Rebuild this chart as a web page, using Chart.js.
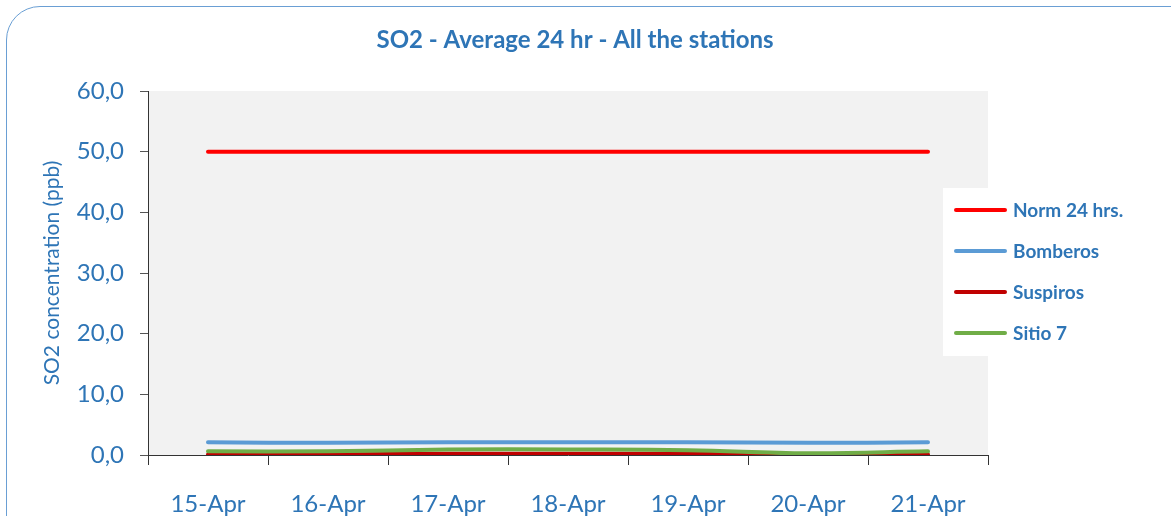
<!DOCTYPE html>
<html>
<head>
<meta charset="utf-8">
<script src="https://cdn.jsdelivr.net/npm/chart.js@4/dist/chart.umd.min.js"></script>
<style>
  html, body { margin: 0; padding: 0; background: #fff; overflow: hidden; }
  #wrap { position: relative; width: 1171px; height: 516px; }
  #frame {
    position: absolute; left: 6px; top: 6px; width: 1220px; height: 580px;
    border: 1.5px solid #6a9fd4; border-radius: 34px; box-sizing: border-box;
  }
  #chart { position: absolute; left: 0; top: 0; }
</style>
</head>
<body>
<div id="wrap">
  <div id="frame"></div>
  <canvas id="chart" width="1171" height="516"></canvas>
</div>
<script>
const days = ['15-Apr', '16-Apr', '17-Apr', '18-Apr', '19-Apr', '20-Apr', '21-Apr'];
const norm24 = [50, 50, 50, 50, 50, 50, 50];
const bomberos = [2.1, 2.0, 2.1, 2.1, 2.1, 2.0, 2.1];
const suspiros = [0.1, 0.1, 0.2, 0.2, 0.2, 0.0, 0.1];
const sitio7 = [0.6, 0.6, 0.9, 0.9, 0.8, 0.3, 0.6];
const chartTitle = 'SO2 - Average 24 hr - All the stations';

const blue = '#2e75b6';
const fontFamily = 'Lato, "Open Sans", sans-serif';

const plotBg = {
    id: 'plotBg',
    beforeDraw(chart) {
        const a = chart.chartArea;
        const ctx = chart.ctx;
        ctx.save();
        ctx.fillStyle = '#f2f2f2';
        ctx.fillRect(a.left, a.top, a.right - a.left, a.bottom - a.top);
        // title centred on the whole frame, not just the plot
        ctx.fillStyle = blue;
        ctx.font = 'bold 24px ' + fontFamily;
        ctx.textAlign = 'center';
        ctx.textBaseline = 'middle';
        ctx.fillText(chartTitle, 575, 40);
        ctx.restore();
    }
};

// legend box drawn over the plot area, like the original
const boxLegend = {
    id: 'boxLegend',
    afterDraw(chart) {
        const ctx = chart.ctx;
        const x = 943, y = 188, w = 230, h = 168;
        ctx.save();
        ctx.fillStyle = '#fff';
        ctx.fillRect(x, y, w, h);
        ctx.font = 'bold 19px ' + fontFamily;
        ctx.textBaseline = 'middle';
        chart.data.datasets.forEach((ds, i) => {
            const cy = 210 + i * 41;
            ctx.strokeStyle = ds.borderColor;
            ctx.lineWidth = 4;
            ctx.lineCap = 'round';
            ctx.beginPath();
            ctx.moveTo(956, cy);
            ctx.lineTo(1005, cy);
            ctx.stroke();
            ctx.fillStyle = blue;
            ctx.fillText(ds.label, 1013, cy + 1);
        });
        ctx.restore();
    }
};

const ctx = document.getElementById('chart').getContext('2d');
new Chart(ctx, {
    type: 'line',
    data: {
        labels: days,
        datasets: [
            { label: 'Norm 24 hrs.', data: norm24, borderColor: '#ff0000', order: 4 },
            { label: 'Bomberos', data: bomberos, borderColor: '#5b9bd5', order: 3 },
            { label: 'Suspiros', data: suspiros, borderColor: '#c00000', order: 2 },
            { label: 'Sitio 7', data: sitio7, borderColor: '#70ad47', order: 1 }
        ]
    },
    options: {
        responsive: false,
        animation: false,
        layout: { padding: { left: 0, right: 183, top: 91, bottom: 0 } },
        elements: {
            line: { borderWidth: 4, tension: 0.4, borderCapStyle: 'round', fill: false },
            point: { radius: 0 }
        },
        plugins: {
            legend: { display: false },
            tooltip: { enabled: false },
            title: { display: false }
        },
        scales: {
            x: {
                offset: true,
                grid: { offset: true, drawOnChartArea: false, tickLength: 10, color: '#333' },
                border: { color: '#333', width: 1 },
                ticks: { color: blue, padding: 25, font: { family: fontFamily, size: 24 }, maxRotation: 0 },
                afterFit(scale) { scale.height = 61; }
            },
            y: {
                min: 0,
                max: 60,
                ticks: {
                    stepSize: 10,
                    color: blue,
                    padding: 16,
                    font: { family: fontFamily, size: 24 },
                    callback: v => v.toFixed(1).replace('.', ',')
                },
                grid: { drawOnChartArea: false, tickLength: 8, color: '#555' },
                border: { color: '#333', width: 1 },
                title: {
                    display: true,
                    text: 'SO2 concentration (ppb)',
                    color: blue,
                    font: { family: fontFamily, size: 21 },
                    padding: { top: 40, bottom: 0 }
                },
                afterFit(scale) { scale.width = 148; }
            }
        }
    },
    plugins: [plotBg, boxLegend]
});
</script>
</body>
</html>
